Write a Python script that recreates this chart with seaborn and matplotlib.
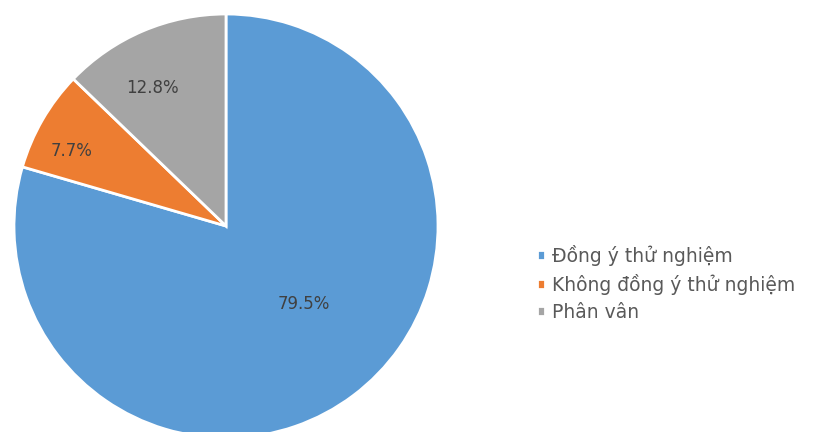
import matplotlib
matplotlib.use("Agg")
import matplotlib.pyplot as plt
import numpy as np
import seaborn as sns

# data
labels = ["Đồng ý thử nghiệm", "Không đồng ý thử nghiệm", "Phân vân"]
shares = [79.5, 7.7, 12.8]

colors = ["#5B9BD5", "#ED7D31", "#A5A5A5"]
pct_dist = [0.52, 0.81, 0.74]   # label distance from centre, per slice
pct_turn = [8, 4, 5]            # label angle nudge (deg), per slice

sns.set_theme(style="white")
plt.rcParams['font.family'] = ['DejaVu Sans']

W, H = 813, 432
cx, cy, R = 226, 226, 212   # pie centre / radius in pixels (from top-left)

fig = plt.figure(figsize=(W / 100, H / 100), dpi=100)
ax = fig.add_axes([0, 0, 1, 1])

wedges, texts, autotexts = ax.pie(
    shares, colors=colors, startangle=90, counterclock=False,
    autopct="%.1f%%", pctdistance=0.6, radius=1,
    wedgeprops=dict(edgecolor="white", linewidth=2),
    textprops=dict(color="#404040", fontsize=12))

# move each percent label to where the original puts it
for w, t, d, a in zip(wedges, autotexts, pct_dist, pct_turn):
    ang = np.deg2rad((w.theta1 + w.theta2) / 2 + a)
    t.set_position((d * np.cos(ang), d * np.sin(ang)))

ax.set_xlim(-cx / R, (W - cx) / R)
ax.set_ylim(-(H - cy) / R, cy / R)
ax.set_aspect("auto")
ax.axis("off")

fig.legend(wedges, labels, loc="upper left", bbox_to_anchor=(520 / W, 1 - 228 / H),
           frameon=False, fontsize=13.5, handlelength=0.45, handleheight=0.45,
           handletextpad=0.35, labelspacing=0.42, labelcolor="#595959")

fig.savefig("out.png", dpi=100)
